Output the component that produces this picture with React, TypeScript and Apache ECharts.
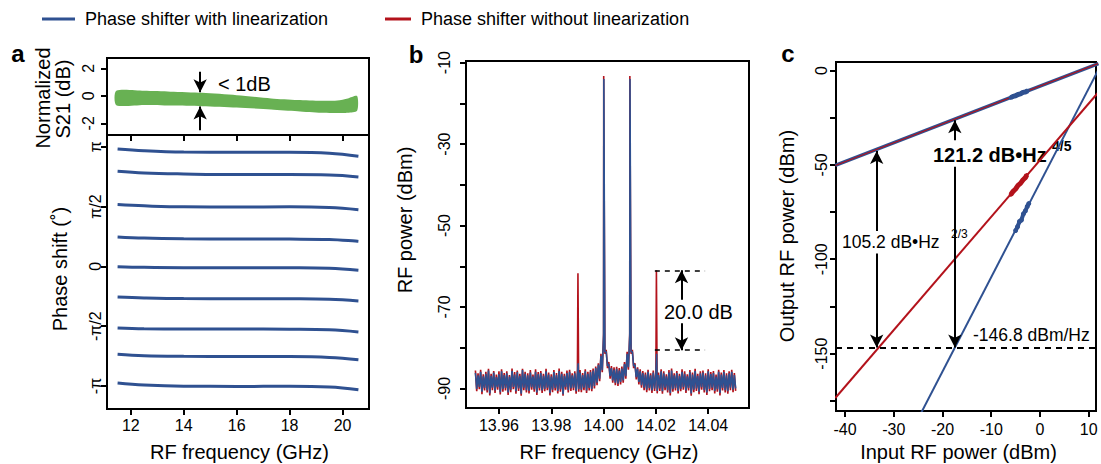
import React, { useEffect, useRef } from "react";
import * as echarts from "echarts";

const BLUE = "#2f5191";
const RED = "#b3121b";
const GREEN = "#68b153";
const FONT = "'Liberation Sans', Arial, Helvetica, sans-serif";

// ---------- Panel a ----------
const s21Freq = [11.45, 12.5, 13.5, 14.7, 16, 17.3, 18.3, 19.2, 19.8, 20.2, 20.55];
const s21Upper = [0.36, 0.36, 0.3, 0.22, 0.05, -0.19, -0.3, -0.36, -0.34, -0.19, -0.02];
const s21Lower = [-0.68, -0.66, -0.7, -0.75, -0.85, -0.99, -1.12, -1.24, -1.25, -1.24, -1.09];
const freqTicksA = [12, 14, 16, 18, 20];
const s21Ticks = [-2, 0, 2];

const phaseFreq = [11.5, 12.5, 14, 16, 18, 19.5, 20.6];
const phase1 = [176.7, 174, 172, 171.6, 171.5, 170, 165.5];
const phase2 = [143, 140.5, 139, 138, 138, 137.5, 134.5];
const phase3 = [92.9, 91, 89.5, 89.4, 89.5, 88.5, 85.3];
const phase4 = [44.2, 42.5, 41.5, 41.2, 41, 40.5, 37.6];
const phase5 = [-0.5, -1.5, -2, -2, -2.2, -3, -6];
const phase6 = [-46, -47.5, -48.5, -48.6, -48.8, -49.5, -52];
const phase7 = [-92.7, -94, -94.2, -94.2, -94.5, -95.5, -98.7];
const phase8 = [-132.4, -134.5, -135.3, -135.5, -135.7, -137, -140.4];
const phase9 = [-175.5, -178.5, -180.3, -180.6, -180.5, -181.5, -185.6];
const phaseTraces = [phase1, phase2, phase3, phase4, phase5, phase6, phase7, phase8, phase9];
const phaseTicks = [-180, -90, 0, 90, 180];
const phaseTickLabels = ["-π", "-π/2", "0", "π/2", "π"];

// ---------- Panel b ----------
const floorStart = 13.951;
const floorStep = 0.001;
// upper / lower envelope of the measured noise, one pair per 1 MHz
const blueHi = [
  -86.2, -86.8, -85.9, -87.0, -86.4, -85.6, -86.9, -86.1, -87.2, -86.5,
  -85.8, -86.7, -86.3, -87.1, -85.7, -86.6, -86.0, -86.9, -85.5, -86.4,
  -86.8, -86.1, -87.0, -85.9, -86.5, -86.2, -86.9, -85.8, -86.6, -87.1,
  -86.0, -86.7, -85.7, -86.4, -86.9, -86.2, -85.9, -86.8, -86.3, -86.5,
  -86.1, -86.7, -85.8, -86.4, -86.0, -85.6, -85.0, -84.2, -82.0, -77.0,
  -81.0, -84.0, -85.0, -85.4, -85.2, -85.6, -85.1, -84.0, -81.5, -77.0,
  -81.0, -84.2, -85.2, -85.8, -86.2, -86.6, -85.9, -86.8, -86.1, -86.4,
  -86.7, -85.8, -86.3, -87.0, -86.1, -85.6, -86.8, -86.2, -86.9, -85.9,
  -86.4, -87.0, -86.0, -86.6, -85.7, -86.9, -86.3, -86.1, -86.8, -85.8,
  -86.5, -86.2, -87.1, -85.9, -86.6, -86.0, -86.8, -86.3, -85.9, -86.7,
];
const blueLo = [
  -90.1, -89.6, -90.8, -89.9, -90.4, -91.2, -89.8, -90.5, -89.7, -90.9,
  -90.2, -89.9, -91.0, -90.3, -89.6, -90.7, -90.0, -91.3, -89.8, -90.4,
  -90.6, -89.7, -90.2, -91.0, -89.9, -90.5, -90.1, -89.8, -91.1, -90.3,
  -89.9, -90.6, -90.2, -91.4, -89.7, -90.4, -90.0, -89.8, -90.7, -90.2,
  -90.3, -89.8, -90.5, -89.9, -90.1, -89.4, -88.6, -87.6, -85.5, -81.0,
  -84.5, -87.0, -88.0, -88.6, -88.8, -88.4, -88.0, -87.0, -84.8, -81.0,
  -84.5, -87.2, -88.4, -89.2, -89.8, -90.3, -89.9, -90.5, -90.0, -90.6,
  -90.0, -90.7, -89.8, -90.4, -91.1, -90.2, -89.9, -90.6, -90.1, -89.7,
  -90.5, -89.9, -91.2, -90.3, -90.0, -90.8, -89.7, -90.4, -91.0, -90.1,
  -89.8, -90.6, -90.2, -91.1, -89.9, -90.4, -90.7, -89.8, -90.3, -90.0,
];
const redHi = [
  -85.6, -86.3, -85.4, -86.5, -85.9, -85.2, -86.4, -85.7, -86.6, -85.8,
  -85.3, -86.2, -85.8, -86.7, -85.1, -86.0, -85.6, -86.4, -85.2, -85.9,
  -86.3, -85.5, -86.6, -85.3, -86.0, -85.7, -86.4, -85.2, -86.1, -86.5,
  -85.5, -86.2, -85.1, -85.9, -86.4, -85.6, -85.4, -86.3, -85.8, -86.0,
  -85.5, -86.2, -85.3, -85.9, -85.5, -85.1, -84.6, -83.8, -81.5, -76.5,
  -80.5, -83.5, -84.5, -84.8, -84.7, -85.0, -84.6, -83.5, -81.0, -76.5,
  -80.5, -83.8, -84.8, -85.3, -85.7, -86.1, -85.4, -86.3, -85.6, -85.9,
  -86.1, -85.3, -85.8, -86.5, -85.5, -85.1, -86.3, -85.7, -86.4, -85.3,
  -85.8, -86.5, -85.5, -86.1, -85.2, -86.4, -85.8, -85.6, -86.3, -85.3,
  -86.0, -85.7, -86.6, -85.4, -86.1, -85.5, -86.3, -85.8, -85.4, -86.2,
];
const redLo = [
  -90.7, -90.2, -91.4, -90.5, -91.0, -91.7, -90.4, -91.1, -90.3, -91.5,
  -90.8, -90.5, -91.6, -90.9, -90.2, -91.3, -90.6, -91.8, -90.4, -91.0,
  -91.2, -90.3, -90.8, -91.6, -90.5, -91.1, -90.7, -90.4, -91.7, -90.9,
  -90.5, -91.2, -90.8, -91.8, -90.3, -91.0, -90.6, -90.4, -91.3, -90.8,
  -90.9, -90.4, -91.1, -90.5, -90.7, -90.0, -89.2, -88.2, -86.0, -81.5,
  -85.0, -87.6, -88.6, -89.2, -89.4, -89.0, -88.6, -87.6, -85.4, -81.5,
  -85.0, -87.8, -89.0, -89.8, -90.4, -90.9, -90.5, -91.1, -90.6, -91.2,
  -90.6, -91.3, -90.4, -91.0, -91.7, -90.8, -90.5, -91.2, -90.7, -90.3,
  -91.1, -90.5, -91.8, -90.9, -90.6, -91.4, -90.3, -91.0, -91.6, -90.7,
  -90.4, -91.2, -90.8, -91.7, -90.5, -91.0, -91.3, -90.4, -90.9, -90.6,
];
const bluePeaks = [
  [13.9903, -83.8],
  [14.0001, -14.0], [14.0002, -14.0],
  [14.0101, -14.0], [14.0102, -14.0],
  [14.0203, -81.5],
];
const redPeaks = [
  [13.9902, -61.7],
  [14.00005, -13.3], [14.00015, -13.3],
  [14.01005, -13.3], [14.01015, -13.3],
  [14.0202, -61.0],
];
const freqTicksB = [13.96, 13.98, 14.0, 14.02, 14.04];
const powerTicksB = [-90, -80, -70, -60, -50, -40, -30, -20, -10];
const powerLabelsB = [-90, -70, -50, -30, -10];

// ---------- Panel c ----------
const fitInput = [-42, 12];
const fundFit = [-50.3, 3.7];
const imd3Fit = [-173.5, -11.5];
const imd5Input = [-25, 12];
const imd5Fit = [-184.5, 0.5];
const fundMeasIn = [-6, -5.5, -5, -4.5, -4, -3.5, -3, -2.5];
const fundMeasOut = [-14.4, -13.7, -13.4, -12.7, -12.4, -11.6, -11.4, -10.7];
const imd3MeasIn = [-6, -5.5, -5, -4.5, -4, -3.5, -3, -2.7];
const imd3MeasOut = [-65.8, -64.0, -62.8, -60.9, -59.8, -58.0, -56.8, -55.4];
const imd5MeasIn = [-5, -4.6, -4.2, -3.8, -3.4, -3.0, -2.6, -2.3];
const imd5MeasOut = [-84.8, -82.8, -80.0, -79.2, -76.0, -74.4, -72.0, -70.5];
const noiseFloor = -146.8;
const inputTicksC = [-40, -30, -20, -10, 0, 10];
const outputTicksC = [-175, -150, -125, -100, -75, -50, -25, 0];
const outputLabelsC = [-150, -100, -50, 0];

function buildSpectrum(hi: number[], lo: number[], peaks: number[][]) {
  const pts: number[][] = [];
  hi.forEach((v, i) => {
    const f = floorStart + i * floorStep;
    pts.push([+f.toFixed(5), v]);
    pts.push([+(f + floorStep / 2).toFixed(5), lo[i]]);
  });
  return pts.concat(peaks.map((p) => [p[0], p[1]])).sort((a, b) => a[0] - b[0]);
}
const pairs = (xs: number[], ys: number[]) => xs.map((x, i) => [x, ys[i]]);

const tickStyle = { show: true, length: 6, inside: false, lineStyle: { color: "#000", width: 2 } };
const lbl = { color: "#000", fontSize: 16, fontFamily: FONT };

function xAx(grid: number, min: number, max: number, ticks: number[], labels: number[] | null, fmt?: (v: number) => string, margin = 9) {
  return {
    type: "value", gridIndex: grid, min, max,
    axisLine: { show: true, onZero: false, lineStyle: { color: "#000", width: 2 } },
    axisTick: { ...tickStyle, customValues: ticks },
    axisLabel: labels ? { ...lbl, margin, customValues: labels, formatter: fmt || ((v: number) => String(v)) } : { show: false },
    splitLine: { show: false },
  };
}
function yAx(grid: number, min: number, max: number, ticks: number[], labels: number[], fmt: (v: number) => string, margin: number) {
  return {
    type: "value", gridIndex: grid, min, max,
    axisLine: { show: true, onZero: false, lineStyle: { color: "#000", width: 2 } },
    axisTick: { ...tickStyle, customValues: ticks },
    axisLabel: { ...lbl, margin, rotate: 90, customValues: labels, formatter: fmt },
    splitLine: { show: false },
  };
}

const arrowLine = (data: any[]) => ({
  silent: true, symbol: ["none", "arrow"], symbolSize: [10, 13],
  label: { show: false }, emphasis: { disabled: true },
  lineStyle: { color: "#000", width: 2, type: "solid" }, data,
});
const seg = (x1: number, y1: number, x2: number, y2: number) => [{ coord: [x1, y1] }, { coord: [x2, y2] }];

function txt(x: number, y: number, text: string, size: number, opts: any = {}) {
  return {
    type: "text", x, y, rotation: opts.rot || 0, silent: true,
    style: {
      text, fill: "#000", fontSize: size, fontFamily: FONT, fontWeight: opts.bold ? "bold" : "normal",
      align: opts.align || "center", verticalAlign: "middle",
    },
  };
}

export default function App() {
  const ref = useRef<HTMLDivElement>(null);
  useEffect(() => {
    const chart = echarts.init(ref.current!, null, { renderer: "svg" });
    const series: any[] = [];
    // Panel a top: S21 band drawn as a polygon through the axis scales
    series.push({
      type: "custom", xAxisIndex: 0, yAxisIndex: 0, silent: true, clip: true,
      data: s21Freq.map((f, i) => [f, s21Upper[i], s21Lower[i]]),
      encode: { x: 0, y: [1, 2] },
      renderItem: (params: any, api: any) => {
        if (params.dataIndex !== 0) return { type: "group", children: [] };
        const up = s21Freq.map((f, i) => api.coord([f, s21Upper[i]]));
        const lo = s21Freq.map((f, i) => api.coord([f, s21Lower[i]])).reverse();
        return { type: "polygon", shape: { points: up.concat(lo), smooth: 0.25 }, style: { fill: GREEN } };
      },
    });
    series.push({
      type: "line", xAxisIndex: 0, yAxisIndex: 0, showSymbol: false, silent: true,
      lineStyle: { opacity: 0 }, data: pairs(s21Freq, s21Upper),
      markLine: arrowLine([seg(14.62, 1.75, 14.62, 0.26), seg(14.62, -2.5, 14.62, -0.78)]),
    });
    // Panel a bottom: phase traces
    phaseTraces.forEach((tr) => {
      series.push({
        type: "line", xAxisIndex: 1, yAxisIndex: 1, smooth: 0.4, showSymbol: false, silent: true,
        lineStyle: { color: BLUE, width: 3 }, data: pairs(phaseFreq, tr),
      });
    });
    // Panel b
    series.push({
      type: "line", xAxisIndex: 2, yAxisIndex: 2, showSymbol: false, silent: true,
      lineStyle: { color: RED, width: 1.6 }, data: buildSpectrum(redHi, redLo, redPeaks),
      markLine: {
        silent: true, symbol: ["none", "none"], label: { show: false }, emphasis: { disabled: true },
        lineStyle: { color: "#000", width: 1.5, type: [5, 5] },
        data: [seg(14.0196, -61, 14.0388, -61), seg(14.0196, -80.6, 14.0388, -80.6)],
      },
    });
    series.push({
      type: "line", xAxisIndex: 2, yAxisIndex: 2, showSymbol: false, silent: true,
      lineStyle: { color: BLUE, width: 1.6 }, data: buildSpectrum(blueHi, blueLo, bluePeaks),
      markLine: arrowLine([seg(14.0298, -68.2, 14.0298, -61), seg(14.0298, -74, 14.0298, -80.6)]),
    });
    // Panel c
    series.push({
      type: "line", xAxisIndex: 3, yAxisIndex: 3, showSymbol: false, silent: true,
      lineStyle: { color: BLUE, width: 3.5 }, data: pairs(fitInput, fundFit),
      markLine: arrowLine([
        seg(-33.5, -85, -33.5, -42.6), seg(-33.5, -97, -33.5, noiseFloor),
        seg(-17.46, -37, -17.46, -26.4), seg(-17.46, -51, -17.46, noiseFloor),
      ]),
    });
    series.push({
      type: "line", xAxisIndex: 3, yAxisIndex: 3, showSymbol: false, silent: true,
      lineStyle: { color: BLUE, width: 2 }, data: pairs(imd5Input, imd5Fit),
    });
    series.push({
      type: "line", xAxisIndex: 3, yAxisIndex: 3, showSymbol: false, silent: true,
      lineStyle: { color: RED, width: 2 }, data: pairs(fitInput, imd3Fit),
      markLine: {
        silent: true, symbol: ["none", "none"], label: { show: false }, emphasis: { disabled: true },
        lineStyle: { color: "#000", width: 2, type: [6, 5] }, data: [{ yAxis: noiseFloor }],
      },
    });
    series.push({
      type: "line", xAxisIndex: 3, yAxisIndex: 3, showSymbol: false, silent: true,
      lineStyle: { color: RED, width: 1.2 }, data: pairs(fitInput, fundFit),
    });
    series.push({
      type: "line", xAxisIndex: 3, yAxisIndex: 3, showSymbol: true, symbol: "circle", symbolSize: 4, silent: true,
      itemStyle: { color: BLUE }, lineStyle: { color: BLUE, width: 5 }, data: pairs(fundMeasIn, fundMeasOut),
    });
    series.push({
      type: "line", xAxisIndex: 3, yAxisIndex: 3, showSymbol: true, symbol: "circle", symbolSize: 4, silent: true,
      itemStyle: { color: RED }, lineStyle: { color: RED, width: 5 }, data: pairs(imd3MeasIn, imd3MeasOut),
    });
    series.push({
      type: "line", xAxisIndex: 3, yAxisIndex: 3, showSymbol: true, symbol: "circle", symbolSize: 5, silent: true,
      itemStyle: { color: BLUE }, lineStyle: { color: BLUE, width: 4 }, data: pairs(imd5MeasIn, imd5MeasOut),
    });

    const R = Math.PI / 2;
    const option: any = {
      animation: false,
      textStyle: { fontFamily: FONT },
      grid: [
        { left: 107, top: 58, width: 262, height: 77, show: true, borderColor: "#000", borderWidth: 2 },
        { left: 107, top: 135, width: 262, height: 274, show: true, borderColor: "#000", borderWidth: 2 },
        { left: 466, top: 61, width: 283, height: 347, show: true, borderColor: "#000", borderWidth: 2 },
        { left: 836, top: 62, width: 260, height: 349, show: true, borderColor: "#000", borderWidth: 2 },
      ],
      xAxis: [
        xAx(0, 11.1, 21.0, freqTicksA, null),
        xAx(1, 11.1, 21.0, freqTicksA, freqTicksA, undefined, 8),
        xAx(2, 13.9474, 14.0556, freqTicksB, freqTicksB, (v: number) => v.toFixed(2), 9),
        xAx(3, -41.85, 11.5, inputTicksC, inputTicksC, undefined, 10),
      ],
      yAxis: [
        yAx(0, -2.85, 2.75, s21Ticks, s21Ticks, (v: number) => String(v), 11),
        yAx(1, -214.6, 197.6, phaseTicks, phaseTicks, (v: number) => phaseTickLabels[phaseTicks.indexOf(Math.round(v))] ?? "", 4),
        yAx(2, -94.8, -9.6, powerTicksB, powerLabelsB, (v: number) => String(v), 14),
        yAx(3, -180.4, 4.5, outputTicksC, outputLabelsC, (v: number) => String(v), 7),
      ],
      series,
      graphic: [
        { type: "line", silent: true, shape: { x1: 42, y1: 19, x2: 75, y2: 19 }, style: { stroke: BLUE, lineWidth: 3 } },
        txt(85, 19, "Phase shifter with linearization", 18, { align: "left" }),
        { type: "line", silent: true, shape: { x1: 385, y1: 19, x2: 411, y2: 19 }, style: { stroke: RED, lineWidth: 3 } },
        txt(421, 19, "Phase shifter without linearization", 18, { align: "left" }),
        txt(18, 53, "a", 24, { bold: true }),
        txt(416, 54, "b", 24, { bold: true }),
        txt(788, 53, "c", 24, { bold: true }),
        txt(43, 98, "Normalized", 20, { rot: R }),
        txt(63, 99, "S21 (dB)", 20, { rot: R }),
        txt(60, 269, "Phase shift (˚)", 20, { rot: R }),
        txt(239.5, 451.5, "RF frequency (GHz)", 20),
        txt(405, 220, "RF power (dBm)", 20, { rot: R }),
        txt(609, 451.5, "RF frequency (GHz)", 20),
        txt(787, 236, "Output RF power (dBm)", 20, { rot: R }),
        txt(958.5, 452, "Input RF power (dBm)", 20),
        txt(218, 83.5, "< 1dB", 20, { align: "left" }),
        txt(664, 311.5, "20.0 dB", 20, { align: "left" }),
        txt(973, 335, "-146.8 dBm/Hz", 17.5, { align: "left" }),
        txt(842, 242, "105.2 dB•Hz", 17.5, { align: "left" }),
        txt(951, 234, "2/3", 12, { align: "left" }),
        txt(933, 155, "121.2 dB•Hz", 20, { align: "left", bold: true }),
        txt(1052, 146, "4/5", 14, { align: "left", bold: true }),
      ],
    };
    chart.setOption(option);
    return () => chart.dispose();
  }, []);
  return <div ref={ref} style={{ position: "absolute", left: 0, top: 0, width: 1101, height: 464, background: "#fff" }} />;
}
